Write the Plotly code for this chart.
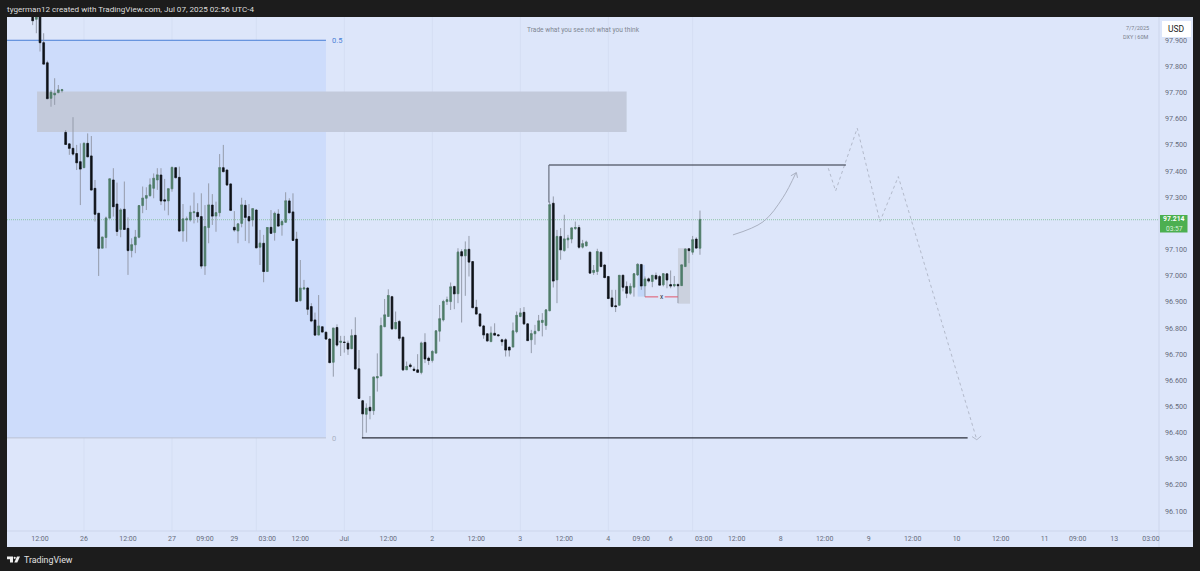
import plotly.graph_objects as go

# ---------- data ----------
hours = list(range(-14, 169))   # bar index, 0 = Jun 26 00:00 (weekend hours removed)

opens = [
    98.000, 97.980, 98.010, 97.891, 97.814, 97.678, 97.691, 97.700, 97.707, 97.548,
    97.504, 97.487, 97.467, 97.436, 97.413, 97.506, 97.458, 97.334, 97.239, 97.105,
    97.146, 97.220, 97.366, 97.274, 97.177, 97.254, 97.181, 97.096, 97.118, 97.147,
    97.268, 97.296, 97.306, 97.334, 97.366, 97.385, 97.290, 97.286, 97.332, 97.413,
    97.376, 97.171, 97.213, 97.213, 97.241, 97.242, 97.226, 97.037, 97.184, 97.270,
    97.228, 97.241, 97.413, 97.404, 97.351, 97.185, 97.171, 97.200, 97.269, 97.226,
    97.213, 97.251, 97.109, 97.124, 97.016, 97.185, 97.165, 97.236, 97.194, 97.204,
    97.286, 97.244, 97.140, 96.905, 96.949, 96.953, 96.882, 96.831, 96.773, 96.805,
    96.784, 96.758, 96.669, 96.802, 96.745, 96.746, 96.742, 96.721, 96.772, 96.644,
    96.522, 96.470, 96.497, 96.484, 96.609, 96.617, 96.805, 96.844, 96.920, 96.797,
    96.825, 96.765, 96.640, 96.659, 96.643, 96.640, 96.630, 96.745, 96.685, 96.676,
    96.704, 96.788, 96.831, 96.901, 96.901, 96.959, 96.931, 97.092, 97.076, 97.101,
    97.054, 96.879, 96.854, 96.808, 96.778, 96.748, 96.780, 96.774, 96.755, 96.755,
    96.727, 96.727, 96.786, 96.844, 96.860, 96.816, 96.755, 96.778, 96.790, 96.821,
    96.810, 96.866, 97.277, 96.984, 97.150, 97.096, 97.137, 97.140, 97.180, 97.184,
    97.109, 97.114, 97.090, 97.012, 97.016, 97.090, 97.041, 96.997, 96.915, 96.885,
    96.887, 97.002, 96.959, 96.933, 96.956, 97.003, 97.043, 96.961, 96.988, 96.978,
    97.001, 96.997, 96.965, 97.007, 96.966, 96.961, 96.966, 96.962, 97.035, 97.103,
    97.090, 97.140, 97.105,
]
highs = [
    98.020, 98.010, 98.030, 97.927, 97.822, 97.710, 97.755, 97.729, 97.714, 97.557,
    97.506, 97.606, 97.500, 97.506, 97.506, 97.544, 97.534, 97.366, 97.239, 97.147,
    97.226, 97.370, 97.411, 97.356, 97.258, 97.360, 97.223, 97.143, 97.175, 97.268,
    97.341, 97.338, 97.372, 97.391, 97.411, 97.411, 97.370, 97.332, 97.414, 97.413,
    97.417, 97.274, 97.226, 97.268, 97.318, 97.277, 97.315, 97.270, 97.353, 97.312,
    97.283, 97.465, 97.500, 97.407, 97.353, 97.247, 97.198, 97.298, 97.289, 97.274,
    97.256, 97.254, 97.175, 97.156, 97.185, 97.251, 97.245, 97.254, 97.213, 97.319,
    97.296, 97.315, 97.168, 97.060, 96.984, 96.956, 96.895, 96.859, 96.926, 96.805,
    96.786, 96.761, 96.799, 96.814, 96.770, 96.770, 96.752, 96.795, 96.841, 96.716,
    96.525, 96.512, 96.540, 96.612, 96.703, 96.840, 96.911, 96.948, 96.923, 96.863,
    96.831, 96.767, 96.672, 96.666, 96.653, 96.700, 96.748, 96.780, 96.691, 96.716,
    96.789, 96.888, 96.908, 96.920, 96.974, 96.961, 97.105, 97.101, 97.131, 97.152,
    97.056, 96.908, 96.856, 96.812, 96.780, 96.806, 96.818, 96.776, 96.759, 96.761,
    96.729, 96.821, 96.863, 96.876, 96.880, 96.818, 96.793, 96.812, 96.850, 96.857,
    96.872, 97.284, 97.303, 97.175, 97.182, 97.233, 97.156, 97.184, 97.207, 97.194,
    97.137, 97.134, 97.092, 97.041, 97.103, 97.092, 97.044, 96.997, 96.946, 96.946,
    97.003, 97.003, 96.978, 96.971, 97.007, 97.048, 97.045, 96.997, 96.993, 97.003,
    97.012, 97.003, 97.010, 97.010, 97.020, 96.999, 96.971, 97.044, 97.105, 97.105,
    97.152, 97.147, 97.249,
]
lows = [
    97.958, 97.927, 97.857, 97.809, 97.677, 97.646, 97.653, 97.697, 97.700, 97.500,
    97.462, 97.459, 97.404, 97.270, 97.411, 97.453, 97.326, 97.207, 96.999, 97.105,
    97.105, 97.220, 97.226, 97.152, 97.147, 97.175, 97.003, 97.070, 97.086, 97.143,
    97.239, 97.251, 97.302, 97.296, 97.328, 97.270, 97.249, 97.231, 97.321, 97.372,
    97.169, 97.130, 97.130, 97.207, 97.200, 97.203, 97.027, 97.003, 97.124, 97.194,
    97.168, 97.226, 97.395, 97.344, 97.247, 97.168, 97.124, 97.185, 97.133, 97.124,
    97.188, 97.105, 97.041, 96.975, 97.016, 97.160, 97.134, 97.188, 97.153, 97.203,
    97.238, 97.133, 96.900, 96.901, 96.945, 96.850, 96.822, 96.771, 96.772, 96.784,
    96.757, 96.665, 96.614, 96.729, 96.693, 96.706, 96.697, 96.719, 96.640, 96.529,
    96.379, 96.400, 96.451, 96.468, 96.557, 96.614, 96.803, 96.844, 96.795, 96.795,
    96.751, 96.639, 96.640, 96.646, 96.634, 96.630, 96.623, 96.666, 96.659, 96.668,
    96.704, 96.748, 96.825, 96.888, 96.869, 96.872, 96.895, 96.821, 96.923, 96.997,
    96.876, 96.850, 96.806, 96.759, 96.748, 96.746, 96.771, 96.767, 96.732, 96.691,
    96.691, 96.727, 96.780, 96.841, 96.813, 96.751, 96.704, 96.736, 96.787, 96.768,
    96.793, 96.864, 96.955, 96.895, 97.061, 97.092, 97.105, 97.124, 97.175, 97.103,
    97.104, 97.112, 97.007, 97.003, 97.003, 97.033, 96.990, 96.910, 96.880, 96.861,
    96.885, 96.940, 96.914, 96.927, 96.920, 96.999, 96.946, 96.919, 96.974, 96.956,
    96.984, 96.961, 96.959, 96.952, 96.952, 96.956, 96.895, 96.961, 97.033, 97.048,
    97.080, 97.104, 97.080,
]
closes = [
    97.975, 97.990, 97.891, 97.809, 97.677, 97.701, 97.697, 97.710, 97.711, 97.502,
    97.487, 97.465, 97.432, 97.408, 97.506, 97.455, 97.328, 97.235, 97.105, 97.147,
    97.220, 97.370, 97.264, 97.169, 97.251, 97.177, 97.096, 97.118, 97.147, 97.268,
    97.296, 97.306, 97.347, 97.372, 97.385, 97.286, 97.286, 97.332, 97.414, 97.375,
    97.171, 97.217, 97.217, 97.242, 97.244, 97.226, 97.037, 97.188, 97.270, 97.228,
    97.241, 97.413, 97.398, 97.347, 97.250, 97.175, 97.198, 97.270, 97.223, 97.210,
    97.256, 97.107, 97.124, 97.016, 97.184, 97.162, 97.238, 97.190, 97.207, 97.286,
    97.241, 97.135, 96.902, 96.952, 96.953, 96.872, 96.827, 96.773, 96.807, 96.785,
    96.758, 96.668, 96.799, 96.735, 96.749, 96.745, 96.720, 96.770, 96.644, 96.531,
    96.472, 96.493, 96.484, 96.612, 96.614, 96.809, 96.850, 96.924, 96.797, 96.821,
    96.761, 96.640, 96.653, 96.653, 96.638, 96.631, 96.742, 96.682, 96.676, 96.710,
    96.789, 96.835, 96.901, 96.908, 96.957, 96.931, 97.090, 97.076, 97.099, 97.052,
    96.878, 96.854, 96.808, 96.774, 96.751, 96.780, 96.773, 96.771, 96.748, 96.716,
    96.716, 96.789, 96.848, 96.857, 96.816, 96.752, 96.778, 96.787, 96.827, 96.829,
    96.869, 97.271, 96.980, 97.150, 97.099, 97.140, 97.143, 97.182, 97.184, 97.109,
    97.122, 97.128, 97.010, 97.020, 97.092, 97.035, 96.993, 96.913, 96.882, 96.882,
    97.001, 96.956, 96.933, 96.959, 97.007, 97.043, 96.961, 96.987, 96.980, 97.001,
    96.988, 96.964, 97.007, 96.984, 96.961, 96.966, 96.962, 97.041, 97.101, 97.096,
    97.137, 97.106, 97.215,
]

tick_hours = [-12, 0, 12, 24, 33, 41, 50, 59, 71, 83, 95, 107, 119, 131, 143, 152, 160, 169,
              178, 190, 202, 214, 226, 238, 250, 262, 271, 281, 291]
tick_labels = ["12:00", "26", "12:00", "27", "09:00", "29", "03:00", "12:00", "Jul", "12:00",
               "2", "12:00", "3", "12:00", "4", "09:00", "6", "03:00", "12:00", "8", "12:00",
               "9", "12:00", "10", "12:00", "11", "09:00", "13", "03:00"]
price_ticks = [96.1, 96.2, 96.3, 96.4, 96.5, 96.6, 96.7, 96.8, 96.9, 97.0, 97.1, 97.3, 97.4, 97.5,
               97.6, 97.7, 97.8, 97.9]
grid_hours = [0, 24, 47, 71, 95, 119, 143, 166]

last_price = 97.214
fib_top, fib_bottom = 97.900, 96.380
zone_top, zone_bottom = 97.704, 97.549
swing_high, swing_low = 97.423, 96.380

plan_x = [203, 205, 210.9, 217.1, 222.1, 243.5]
plan_y = [97.411, 97.324, 97.564, 97.207, 97.379, 96.373]
curve_x = [177, 185.2, 190.6, 194.2]
curve_y = [97.156, 97.206, 97.298, 97.394]

# ---------- frame geometry / colours ----------
PL, PR, PT, PB = 7, 1159, 17, 531   # plot area in page pixels
BG = "#dde6fa"
FIB = "#cddcfb"
DARK = "#1c1c1c"
BULL = "#4f7c69"
BEAR = "#0e1218"
WICK = "#949baa"
TXT = "#666c7a"
FONT = "Roboto, Arial, sans-serif"


def xp(x):
    return (x - PL) / (PR - PL)


def yp(y):
    return (PB - y) / (PB - PT)


fig = go.Figure()

# wicks
fig.add_trace(go.Candlestick(
    x=hours, open=closes, high=highs, low=lows, close=closes,
    increasing=dict(line=dict(color=WICK, width=1), fillcolor=WICK),
    decreasing=dict(line=dict(color=WICK, width=1), fillcolor=WICK),
    whiskerwidth=0, hoverinfo="skip", showlegend=False))
# bodies
fig.add_trace(go.Candlestick(
    x=hours, open=opens, close=closes,
    high=[max(o, c) for o, c in zip(opens, closes)],
    low=[min(o, c) for o, c in zip(opens, closes)],
    increasing=dict(line=dict(color=BULL, width=0.7), fillcolor=BULL),
    decreasing=dict(line=dict(color=BEAR, width=0.7), fillcolor=BEAR),
    whiskerwidth=0, hoverinfo="skip", showlegend=False))

# projected path
fig.add_trace(go.Scatter(x=plan_x, y=plan_y, mode="lines", hoverinfo="skip", showlegend=False,
                         line=dict(color="#b3bacb", width=1, dash="3px,3px")))
fig.add_trace(go.Scatter(x=[242.2, 243.5, 244.7], y=[96.385, 96.373, 96.387], mode="lines",
                         hoverinfo="skip", showlegend=False, line=dict(color="#b3bacb", width=1)))
# curved arrow
fig.add_trace(go.Scatter(x=curve_x, y=curve_y, mode="lines", hoverinfo="skip", showlegend=False,
                         line=dict(color="#aab1c2", width=1, shape="spline", smoothing=1)))
fig.add_trace(go.Scatter(x=[192.8, 194.3, 194.6], y=[97.382, 97.394, 97.374], mode="lines",
                         hoverinfo="skip", showlegend=False, line=dict(color="#aab1c2", width=1)))

shapes = []
# chart panel on dark page
shapes.append(dict(type="rect", xref="paper", yref="paper", layer="below",
                   x0=xp(7), x1=xp(1193), y0=yp(547), y1=yp(17), fillcolor=BG, line_width=0))
# fib box + zone
shapes.append(dict(type="rect", xref="x", yref="y", layer="below", x0=-21, x1=66,
                   y0=fib_bottom, y1=fib_top, fillcolor=FIB, line_width=0))
# grid lines
for g in grid_hours:
    shapes.append(dict(type="line", xref="x", yref="paper", layer="below", x0=g, x1=g, y0=0, y1=1,
                       line=dict(color="#d5def3", width=1)))
shapes.append(dict(type="rect", xref="x", yref="y", layer="below", x0=-12.8, x1=148,
                   y0=zone_bottom, y1=zone_top, fillcolor="#c3cadb", line_width=0))
# fib lines
shapes.append(dict(type="line", xref="x", yref="y", layer="below", x0=-21, x1=66, y0=fib_top, y1=fib_top,
                   line=dict(color="#4a7fd6", width=1)))
shapes.append(dict(type="line", xref="x", yref="y", layer="below", x0=-21, x1=66, y0=fib_bottom, y1=fib_bottom,
                   line=dict(color="#bcc3d2", width=1)))
# current price line
shapes.append(dict(type="line", xref="x", yref="y", layer="below", x0=-21, x1=293.2, y0=last_price, y1=last_price,
                   line=dict(color="#8fc5a8", width=1, dash="1px,1px")))
# small boxes near the last bars
shapes.append(dict(type="rect", xref="x", yref="y", layer="below", x0=151, x1=153, y0=96.920, y1=97.041,
                   fillcolor="#c2d6f8", line_width=0))
shapes.append(dict(type="rect", xref="x", yref="y", layer="below", x0=162, x1=165.3, y0=96.893, y1=97.105,
                   fillcolor="#cbd1de", line_width=0))
shapes.append(dict(type="line", xref="x", yref="y", x0=153, x1=156.6, y0=96.919, y1=96.919,
                   line=dict(color="#e0566a", width=1)))
shapes.append(dict(type="line", xref="x", yref="y", x0=158.4, x1=162, y0=96.919, y1=96.919,
                   line=dict(color="#e0566a", width=1)))
# swing lines
shapes.append(dict(type="line", xref="x", yref="y", x0=126.8, x1=207.8, y0=swing_high, y1=swing_high,
                   line=dict(color="#2b2f3a", width=1.1)))
shapes.append(dict(type="line", xref="x", yref="y", x0=126.8, x1=126.8, y0=97.28, y1=swing_high,
                   line=dict(color="#5f6675", width=1.1)))
shapes.append(dict(type="line", xref="x", yref="y", x0=75.8, x1=241, y0=swing_low, y1=swing_low,
                   line=dict(color="#2b2f3a", width=1.1)))
# axis separators
shapes.append(dict(type="line", xref="paper", yref="paper", layer="below", x0=xp(1159), x1=xp(1159),
                   y0=yp(547), y1=yp(17), line=dict(color="#cdd6ec", width=1)))
shapes.append(dict(type="line", xref="paper", yref="paper", layer="below", x0=xp(7), x1=xp(1193),
                   y0=yp(531), y1=yp(531), line=dict(color="#cdd6ec", width=1)))
# USD box
shapes.append(dict(type="rect", xref="paper", yref="paper", layer="above", x0=xp(1162), x1=xp(1191),
                   y0=yp(37), y1=yp(21), fillcolor="#ffffff", line_width=0))
# price tag
shapes.append(dict(type="rect", xref="paper", yref="paper", layer="above", x0=xp(1160), x1=xp(1187.5),
                   y0=yp(232.5), y1=yp(215), fillcolor="#4caf50", line_width=0))


def pts(seq):
    return " ".join(("M" if i == 0 else "L") + f"{xp(a):.5f},{yp(b):.5f}" for i, (a, b) in enumerate(seq)) + " Z"


# TradingView logo
for poly in ([(7, 556.5), (13, 556.5), (13, 562.5), (10, 562.5), (10, 559.3), (7, 559.3)],
             [(17, 556.5), (20, 556.5), (17.3, 562.5), (14.3, 562.5)]):
    shapes.append(dict(type="path", xref="paper", yref="paper", path=pts(poly),
                       fillcolor="#f0f0f0", line_width=0))
shapes.append(dict(type="circle", xref="paper", yref="paper", x0=xp(13.6), x1=xp(15.8), y0=yp(559), y1=yp(556.7),
                   fillcolor="#f0f0f0", line_width=0))


def note(x, y, text, size, color, anchor="left", weight=None):
    return dict(xref="paper", yref="paper", x=xp(x), y=yp(y), text=text, showarrow=False, xanchor=anchor,
                yanchor="middle", font=dict(family=FONT, size=size, color=color, weight=weight), borderpad=0)


annotations = [
    note(6, 8.5, "tygerman12 created with TradingView.com, Jul 07, 2025 02:56 UTC-4", 8.1, "#dcdcdc"),
    note(526, 30, "Trade what you see not what you think", 6.6, "#808692"),
    note(1150, 28, "7/7/2025", 5.5, "#7a808c", "right"),
    note(1150, 37, "DXY | 60M", 5.5, "#7a808c", "right"),
    note(1176.5, 29, "USD", 8.5, "#222222", "center"),
    note(1174, 219, "97.214", 6.8, "#ffffff", "center", 700),
    note(1174, 228.5, "03:57", 6.6, "#d8efd9", "center"),
    note(22.5, 559.5, "TradingView", 8.8, "#e2e2e2"),
    note(331, 41, "0.5", 7.5, "#4a7fd6"),
    note(331, 438, "0", 7.5, "#aab1c2"),
    note(661.7, 297.3, "x", 6.5, "#2a2f3a", "center"),
]

fig.update_layout(
    width=1200, height=571, autosize=False,
    margin=dict(l=PL, r=1200 - PR, t=PT, b=571 - PB, pad=0),
    paper_bgcolor=DARK, plot_bgcolor="rgba(0,0,0,0)",
    font=dict(family=FONT, color=TXT), showlegend=False,
    shapes=shapes, annotations=annotations,
    xaxis=dict(range=[-21, 293.2], showgrid=False, zeroline=False, showline=False, rangeslider_visible=False,
               tickmode="array", tickvals=tick_hours, ticktext=tick_labels, ticks="",
               tickangle=0, tickfont=dict(size=7, color=TXT, family=FONT), ticklabelstandoff=2),
    yaxis=dict(range=[96.024, 97.989], side="right", showgrid=False, zeroline=False, showline=False,
               tickmode="array", tickvals=price_ticks, ticktext=[f"{p:.3f}" for p in price_ticks], ticks="",
               tickfont=dict(size=7.2, color=TXT, family=FONT), ticklabelstandoff=5),
)

fig.write_html("out.html", config={"displayModeBar": False},
               post_script="document.documentElement.style.margin='0';document.body.style.margin='0';document.body.style.overflow='hidden';document.body.style.background='#1c1c1c';")
